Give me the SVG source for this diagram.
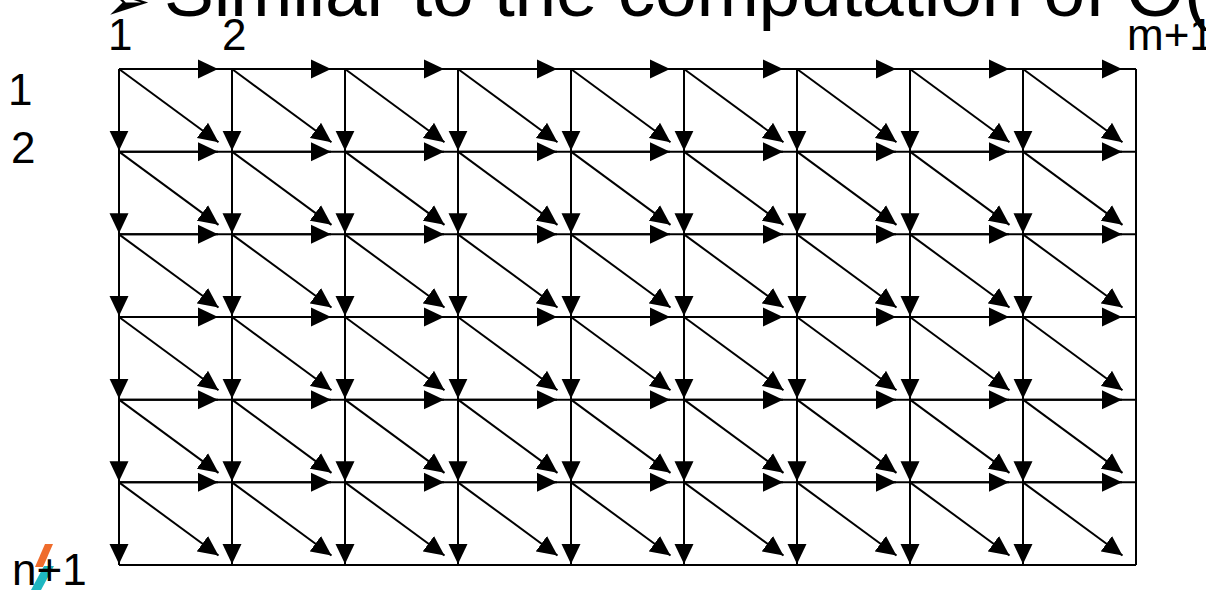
<svg xmlns="http://www.w3.org/2000/svg" xmlns:xlink="http://www.w3.org/1999/xlink" width="1206" height="590" viewBox="0 0 1206 590">
  <style>
    .ln { stroke: #000; stroke-width: 2; fill: none; }
    .arr { stroke: #000; stroke-width: 2; fill: none; marker-end: url(#ah); }
    .lbl { font-family: "Liberation Sans", Arial, sans-serif; font-size: 44px; fill: #000; }
    .title { font-family: "Liberation Sans", Arial, sans-serif; font-size: 75px; fill: #000; }
  </style>
  <defs>
    <marker id="ah" viewBox="0 0 20 20" refX="20" refY="10" markerWidth="20" markerHeight="20" markerUnits="userSpaceOnUse" orient="auto">
      <path d="M0,0.5 L20,10 L0,19.5 Z" fill="#000"/>
    </marker>
    <g id="cell">
      <line class="arr" x1="0" y1="0" x2="99" y2="0"/>
      <line class="arr" x1="0" y1="0" x2="0" y2="81.7"/>
      <line class="arr" x1="0" y1="0" x2="99.5" y2="73.2"/>
    </g>
    <g id="row">
      <use xlink:href="#cell" x="119"/>
      <use xlink:href="#cell" x="232"/>
      <use xlink:href="#cell" x="345"/>
      <use xlink:href="#cell" x="458"/>
      <use xlink:href="#cell" x="571"/>
      <use xlink:href="#cell" x="684"/>
      <use xlink:href="#cell" x="797"/>
      <use xlink:href="#cell" x="910"/>
      <use xlink:href="#cell" x="1023"/>
    </g>
  </defs>
  <rect width="1206" height="590" fill="#fff"/>

  <g id="title">
    <text x="104" y="20" font-family="DejaVu Sans, sans-serif" font-size="56">➢</text>
    <text class="title" x="164" y="16" textLength="1045" lengthAdjust="spacing">Similar to the computation of O(</text>
  </g>

  <g id="grid">
    <line class="ln" x1="119" y1="69" x2="1136" y2="69"/>
    <line class="ln" x1="119" y1="151.67" x2="1136" y2="151.67"/>
    <line class="ln" x1="119" y1="234.33" x2="1136" y2="234.33"/>
    <line class="ln" x1="119" y1="317" x2="1136" y2="317"/>
    <line class="ln" x1="119" y1="399.67" x2="1136" y2="399.67"/>
    <line class="ln" x1="119" y1="482.33" x2="1136" y2="482.33"/>
    <line class="ln" x1="119" y1="565" x2="1136" y2="565"/>
    <line class="ln" x1="119" y1="69" x2="119" y2="565"/>
    <line class="ln" x1="232" y1="69" x2="232" y2="565"/>
    <line class="ln" x1="345" y1="69" x2="345" y2="565"/>
    <line class="ln" x1="458" y1="69" x2="458" y2="565"/>
    <line class="ln" x1="571" y1="69" x2="571" y2="565"/>
    <line class="ln" x1="684" y1="69" x2="684" y2="565"/>
    <line class="ln" x1="797" y1="69" x2="797" y2="565"/>
    <line class="ln" x1="910" y1="69" x2="910" y2="565"/>
    <line class="ln" x1="1023" y1="69" x2="1023" y2="565"/>
    <line class="ln" x1="1136" y1="69" x2="1136" y2="565"/>
  </g>

  <g id="connectors">
    <use xlink:href="#row" y="69"/>
    <use xlink:href="#row" y="151.67"/>
    <use xlink:href="#row" y="234.33"/>
    <use xlink:href="#row" y="317"/>
    <use xlink:href="#row" y="399.67"/>
    <use xlink:href="#row" y="482.33"/>
  </g>

  <g id="logo">
    <polygon points="45,544 53,544 43,567 35,567" fill="#ef6c2c"/>
    <polygon points="44,566 54,566 41,590 31,590" fill="#1fb7c1"/>
  </g>

  <g id="labels">
    <text class="lbl" x="108" y="50">1</text>
    <text class="lbl" x="222" y="50">2</text>
    <text class="lbl" x="1127" y="50">m+1</text>
    <text class="lbl" x="8" y="105">1</text>
    <text class="lbl" x="11" y="163">2</text>
    <text class="lbl" x="12" y="585">n+1</text>
  </g>
</svg>
